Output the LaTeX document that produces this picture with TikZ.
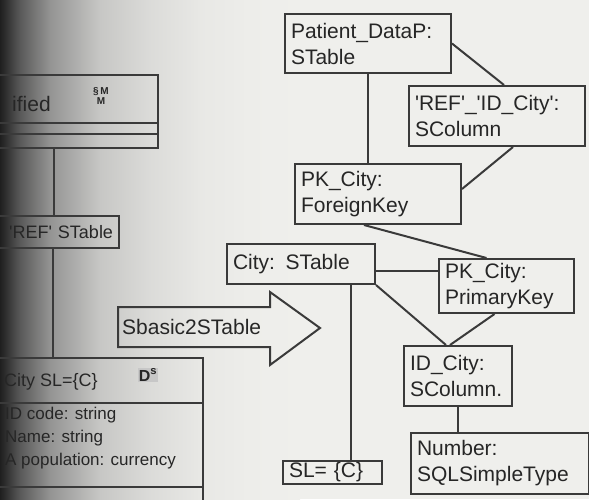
\documentclass[tikz,border=0pt]{standalone}
\usepackage{fontspec}
\setmainfont{Liberation Sans}
\usetikzlibrary{positioning,calc}
\definecolor{scInk}{HTML}{262626}
\definecolor{scLine}{HTML}{3A3A3A}
\definecolor{scPaper}{rgb}{0.937,0.937,0.925}
\definecolor{scG0}{rgb}{0.12,0.12,0.12}
\definecolor{scG1}{rgb}{0.35,0.35,0.35}
\definecolor{scG2}{rgb}{0.58,0.58,0.575}
\definecolor{scG3}{rgb}{0.78,0.78,0.772}
\definecolor{scG4}{rgb}{0.86,0.86,0.85}
\definecolor{scG5}{rgb}{0.91,0.91,0.899}
\definecolor{scG6}{rgb}{0.93,0.93,0.918}
\pgfdeclarehorizontalshading{scanshade}{100bp}{color(0bp)=(scG0); color(25bp)=(scG0);
  color(28.33bp)=(scG1); color(33.33bp)=(scG2); color(41.67bp)=(scG3);
  color(50bp)=(scG4); color(58.33bp)=(scG5); color(66.67bp)=(scG6);
  color(75bp)=(scPaper); color(100bp)=(scPaper)}
\newcommand{\boxfont}{\fontsize{21}{26}\selectfont}
\newcommand{\attrfont}{\fontsize{17}{23}\selectfont}
\tikzset{
  obj/.style   ={draw=scLine,line width=2pt,anchor=north west,align=left,
                 inner xsep=6pt,inner ysep=2pt,font=\boxfont,text=scInk},
  comp/.style  ={draw=scLine,line width=2pt,anchor=north west,inner sep=0pt,
                 outer sep=0pt},
  link/.style  ={scLine,line width=2pt},
  xform/.style ={draw=scLine,line width=2pt,line join=miter},
  lbl/.style   ={font=\boxfont,text=scInk,inner sep=0pt},
  albl/.style  ={font=\attrfont,text=scInk,inner sep=0pt,align=left},
  icon/.style  ={font=\fontsize{10}{10}\selectfont\bfseries,text=scInk,
                 inner sep=1pt,align=center},
}

\begin{document}
\begin{tikzpicture}[x=1pt,y=-1pt]
\useasboundingbox (0,0) rectangle (589,499);
\clip (0,0) rectangle (589,499);
%% scanned page, dark at the binding
\fill[scPaper] (0,0) rectangle (589,499);
\shade[shading=scanshade] (0,0) rectangle (300,499);

%% right-hand object diagram
\node[obj,text width=154,minimum height=59] (pat)  at (284,13)
  {Patient\_DataP:\\STable};
\node[obj,text width=164,minimum height=60] (ref)  at (408,85)
  {\textquotesingle REF\textquotesingle\_\textquotesingle ID\_City\textquotesingle:\\SColumn};
\node[obj,text width=154,minimum height=60] (fk)   at (294,163)
  {PK\_City:\\ForeignKey};
\node[obj,text width=136,minimum height=40] (city) at (226,243)
  {City: STable};
\node[obj,text width=123,minimum height=54] (pk)   at (438,258)
  {PK\_City:\\PrimaryKey};
\node[obj,text width=96,minimum height=60]  (id)   at (403,345)
  {ID\_City:\\SColumn.};
\node[obj,text width=166,minimum height=61] (num)  at (410,432)
  {Number:\\SQLSimpleType};
\node[obj,text width=87,minimum height=23,inner ysep=0pt] (sl) at (282,460)
  {SL= \{C\}};

\draw[link] (pat.south) -- (pat.south |- fk.north);
\draw[link] (pat.east) -- ([xshift=7]ref.north);
\draw[link] ([xshift=16]ref.south) -- ([yshift=5]fk.east);
\draw[link] ([xshift=-14]fk.south) -- ([xshift=-20]pk.north);
\draw[link] ([yshift=-7]city.east) -- ([yshift=-7]city.east -| pk.west);
\draw[link] (city.south east) -- ([xshift=-12]id.north);
\draw[link] ([xshift=-12]pk.south) -- ([xshift=-8]id.north);
\draw[link] (id.south) -- (id.south |- num.north);
\draw[link] ([xshift=50]city.south) -- ([xshift=50]city.south |- sl.north);

%% transformation arrow
\draw[xform] (118,307) -- (270,307) -- (270,292) -- (320,328) -- (270,365)
  -- (270,347) -- (118,347) -- cycle;
\node[lbl,anchor=west] (xformlbl) at (122,327) {Sbasic2STable};

%% left-hand classes, cut at the page edge
\coordinate (spine) at (54,0);
\node[comp,minimum width=198,minimum height=48] (clsA) at (-40,75) {};
\node[comp,minimum width=198,minimum height=11,below=0pt of clsA] (clsAattr) {};
\node[comp,minimum width=198,minimum height=14,below=0pt of clsAattr] (clsAops) {};
\node[lbl,anchor=west] (clsAname) at (12,104) {ified};
\node[icon] (clsAicon) at (101,96) {\S\,M\\M};

\node[obj,anchor=north east,align=right,text width=150,minimum height=32,
  font=\fontsize{18}{22}\selectfont] (refT) at (120,215)
  {\textquotesingle REF\textquotesingle{} STable};

\node[comp,minimum width=233,minimum height=45] (clsB) at (-30,358) {};
\node[comp,minimum width=233,minimum height=84,below=0pt of clsB] (clsBattr) {};
\node[comp,minimum width=233,minimum height=40,below=0pt of clsBattr] (clsBops) {};
\node[lbl,anchor=west,font=\fontsize{18}{22}\selectfont] (clsBname) at (4,382)
  {City SL=\{C\}};
\node[icon,fill=black!22,font=\fontsize{16}{16}\selectfont\bfseries] (clsBicon)
  at (148,375) {D\textsuperscript{s}};
\node[albl,anchor=north west] (clsBlist) at (5,407)
  {ID code: string\\Name: string\\A population: currency};

\draw[link] (clsAops.south -| spine) -- (refT.north -| spine);
\draw[link] ([xshift=-1]refT.south -| spine) -- ([xshift=-1]clsB.north -| spine);
\end{tikzpicture}
\end{document}
